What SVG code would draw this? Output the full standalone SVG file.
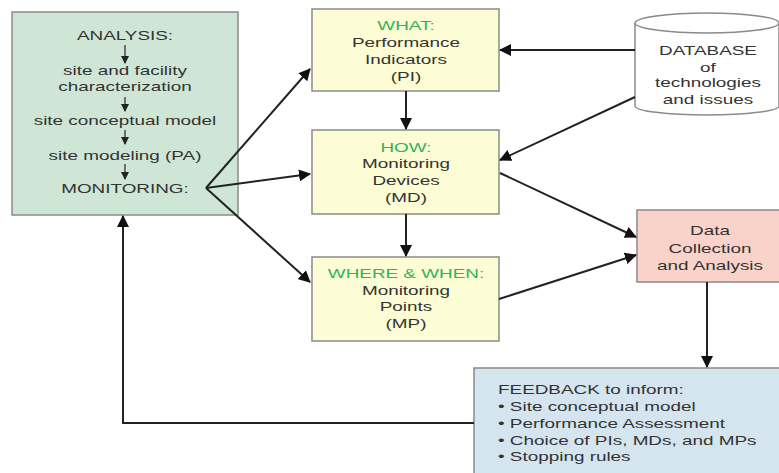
<svg xmlns="http://www.w3.org/2000/svg" width="779" height="473" viewBox="0 0 779 473">
<style>
text{font-family:"Liberation Sans",Arial,sans-serif;font-size:13.5px;fill:#333;}
.c{text-anchor:middle;}
.g{fill:#2fb35a;}
.box{stroke:#8a8a8a;stroke-width:1.5;}
.ln{stroke:#222;stroke-width:2;fill:none;}
.sm{stroke:#333;stroke-width:1.3;fill:none;}
</style>
<defs>
<marker id="ah" markerUnits="userSpaceOnUse" markerWidth="12" markerHeight="12" refX="11" refY="6" orient="auto">
<path d="M0,0 L12,6 L0,12 z" fill="#111"/>
</marker>
<marker id="sh" markerUnits="userSpaceOnUse" markerWidth="8" markerHeight="8" refX="7" refY="4" orient="auto">
<path d="M0,0 L8,4 L0,8 z" fill="#222"/>
</marker>
</defs>

<g id="analysis">
<rect class="box" x="12" y="12" width="226" height="203" fill="#cfe6d6"/>
<text class="c" transform="translate(125,40) scale(1.4,1)">ANALYSIS:</text>
<line class="sm" x1="125" y1="45" x2="125" y2="63" marker-end="url(#sh)"/>
<text class="c" transform="translate(125,75) scale(1.4,1)">site and facility</text>
<text class="c" transform="translate(125,91) scale(1.4,1)">characterization</text>
<line class="sm" x1="125" y1="97" x2="125" y2="111" marker-end="url(#sh)"/>
<text class="c" transform="translate(125,125) scale(1.4,1)">site conceptual model</text>
<line class="sm" x1="125" y1="130" x2="125" y2="144" marker-end="url(#sh)"/>
<text class="c" transform="translate(125,160) scale(1.4,1)">site modeling (PA)</text>
<line class="sm" x1="125" y1="164" x2="125" y2="179" marker-end="url(#sh)"/>
<text class="c" transform="translate(125,193) scale(1.4,1)">MONITORING:</text>
</g>

<g id="what">
<rect class="box" x="312" y="9" width="187" height="82" fill="#fdfdd5"/>
<text class="c g" transform="translate(406,30) scale(1.4,1)">WHAT:</text>
<text class="c" transform="translate(406,47) scale(1.4,1)">Performance</text>
<text class="c" transform="translate(406,64) scale(1.4,1)">Indicators</text>
<text class="c" transform="translate(406,81) scale(1.4,1)">(PI)</text>
</g>

<g id="how">
<rect class="box" x="312" y="130" width="187" height="84" fill="#fdfdd5"/>
<text class="c g" transform="translate(406,152) scale(1.4,1)">HOW:</text>
<text class="c" transform="translate(406,168) scale(1.4,1)">Monitoring</text>
<text class="c" transform="translate(406,185) scale(1.4,1)">Devices</text>
<text class="c" transform="translate(406,202) scale(1.4,1)">(MD)</text>
</g>

<g id="where">
<rect class="box" x="312" y="257" width="187" height="84" fill="#fdfdd5"/>
<text class="c g" transform="translate(406,278) scale(1.4,1)">WHERE &amp; WHEN:</text>
<text class="c" transform="translate(406,295) scale(1.4,1)">Monitoring</text>
<text class="c" transform="translate(406,311) scale(1.4,1)">Points</text>
<text class="c" transform="translate(406,328) scale(1.4,1)">(MP)</text>
</g>

<g id="database">
<path class="box" d="M635,23 L635,106 A72,9 0 0 0 779,106 L779,23" fill="#fff"/>
<ellipse class="box" cx="707" cy="23" rx="72" ry="10" fill="#fff"/>
<text class="c" transform="translate(708,55) scale(1.4,1)">DATABASE</text>
<text class="c" transform="translate(708,72) scale(1.4,1)">of</text>
<text class="c" transform="translate(708,87) scale(1.4,1)">technologies</text>
<text class="c" transform="translate(708,104) scale(1.4,1)">and issues</text>
</g>

<g id="data">
<rect class="box" x="637" y="210" width="145" height="72" fill="#f9d3ca"/>
<text class="c" transform="translate(710,235) scale(1.4,1)">Data</text>
<text class="c" transform="translate(710,253) scale(1.4,1)">Collection</text>
<text class="c" transform="translate(710,270) scale(1.4,1)">and Analysis</text>
</g>

<g id="feedback">
<rect class="box" x="474" y="368" width="310" height="110" fill="#d5e5ef"/>
<text transform="translate(498,394) scale(1.4,1)">FEEDBACK to inform:</text>
<text transform="translate(498,411) scale(1.4,1)">• Site conceptual model</text>
<text transform="translate(498,428) scale(1.4,1)">• Performance Assessment</text>
<text transform="translate(498,445) scale(1.4,1)">• Choice of PIs, MDs, and MPs</text>
<text transform="translate(498,461) scale(1.4,1)">• Stopping rules</text>
</g>

<g id="connectors">
<line class="ln" x1="406" y1="91" x2="406" y2="129" marker-end="url(#ah)"/>
<line class="ln" x1="406" y1="214" x2="406" y2="256" marker-end="url(#ah)"/>
<line class="ln" x1="635" y1="50" x2="500" y2="50" marker-end="url(#ah)"/>
<line class="ln" x1="635" y1="97" x2="500" y2="160" marker-end="url(#ah)"/>
<line class="ln" x1="500" y1="173" x2="636" y2="237" marker-end="url(#ah)"/>
<line class="ln" x1="499" y1="299" x2="636" y2="255" marker-end="url(#ah)"/>
<line class="ln" x1="707" y1="282" x2="707" y2="367" marker-end="url(#ah)"/>
<polyline class="ln" points="474,423 123,423 123,216" marker-end="url(#ah)"/>
<line class="ln" x1="206" y1="188" x2="310" y2="69" marker-end="url(#ah)"/>
<line class="ln" x1="206" y1="188" x2="310" y2="174" marker-end="url(#ah)"/>
<line class="ln" x1="206" y1="188" x2="310" y2="282" marker-end="url(#ah)"/>
</g>
</svg>
